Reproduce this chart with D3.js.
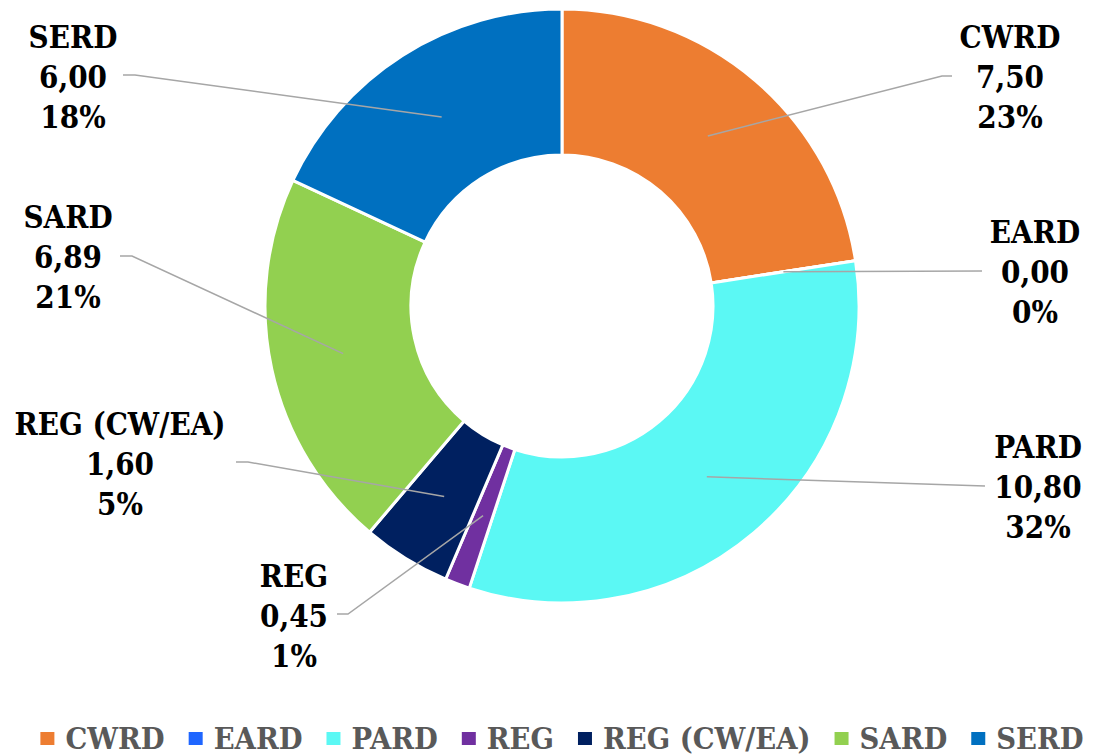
<!DOCTYPE html>
<html>
<head>
<meta charset="utf-8">
<script src="https://cdn.jsdelivr.net/npm/d3@7"></script>
<style>
  html, body { margin: 0; padding: 0; background: #fff; }
  svg { display: block; }
  .lbl { font-family: "DejaVu Serif Condensed", "DejaVu Serif", serif; font-stretch: condensed; font-weight: bold; font-size: 31px; fill: #000; }
  .leg { font-family: "DejaVu Serif Condensed", "DejaVu Serif", serif; font-stretch: condensed; font-weight: bold; font-size: 30.5px; fill: #595959; }
</style>
</head>
<body>
<svg id="chart" width="1094" height="756"></svg>
<script>
// ---- data ----
const categories = ["CWRD", "EARD", "PARD", "REG", "REG (CW/EA)", "SARD", "SERD"];
const values     = [7.50, 0.00, 10.80, 0.45, 1.60, 6.89, 6.00];
const colors     = ["#ED7D31", "#1F66FF", "#5BF8F4", "#7030A0", "#002060", "#92D050", "#0070C0"];

// ---- layout (label placement chosen to match the reference) ----
const labelLayout = [
  { cx: 1010, by: 48,  sx: 952, sy: 76,  ex: 942 },  // CWRD
  { cx: 1035, by: 243, sx: 982, sy: 271, ex: null }, // EARD
  { cx: 1038, by: 458, sx: 985, sy: 486, ex: null }, // PARD
  { cx: 294,  by: 587, sx: 337, sy: 614, ex: 348 },  // REG
  { cx: 120,  by: 435, sx: 236, sy: 462, ex: 248 },  // REG (CW/EA)
  { cx: 68,   by: 228, sx: 120, sy: 256, ex: 132 },  // SARD
  { cx: 73,   by: 48,  sx: 123, sy: 75,  ex: 135 }   // SERD
];

const W = 1094, H = 756;
const cx = 562, cy = 306, rOuter = 297, rInner = 151;
const lineH = 40;

const svg = d3.select("#chart");
const total = d3.sum(values);
const data = categories.map((c, i) => ({ name: c, value: values[i], color: colors[i], i }));

const pie = d3.pie().value(d => d.value).sort(null).startAngle(0).endAngle(2 * Math.PI);
const arcs = pie(data);
const arc = d3.arc().innerRadius(rInner).outerRadius(rOuter);

const g = svg.append("g").attr("transform", `translate(${cx},${cy})`);
g.selectAll("path.slice")
  .data(arcs)
  .join("path")
  .attr("class", "slice")
  .attr("d", arc)
  .attr("fill", d => d.data.color)
  .attr("stroke", "#fff")
  .attr("stroke-width", 3)
  .attr("stroke-linejoin", "round");

// leader lines
const fmt = v => v.toFixed(2).replace(".", ",");
const pct = v => Math.round(v / total * 100) + "%";

const leaders = svg.append("g");
arcs.forEach((a, i) => {
  const L = labelLayout[i];
  const c = arc.centroid(a);
  const pts = [[L.sx, L.sy]];
  if (L.ex !== null) pts.push([L.ex, L.sy]);
  pts.push([cx + c[0], cy + c[1]]);
  leaders.append("path")
    .attr("d", d3.line()(pts))
    .attr("fill", "none")
    .attr("stroke", "#A6A6A6")
    .attr("stroke-width", 1.5);
});

// labels
const labels = svg.append("g");
arcs.forEach((a, i) => {
  const L = labelLayout[i];
  const t = labels.append("text").attr("class", "lbl").attr("text-anchor", "middle");
  [a.data.name, fmt(a.data.value), pct(a.data.value)].forEach((s, k) => {
    t.append("tspan").attr("x", L.cx).attr("y", L.by + k * lineH).text(s);
  });
});

// legend
const legend = svg.append("g");
const sq = 14, gapSq = 11, gapItem = 24, legBase = 749;
let x = 0;
data.forEach(d => {
  const ig = legend.append("g");
  ig.append("rect").attr("x", x).attr("y", legBase - 17).attr("width", sq).attr("height", 13).attr("fill", d.color);
  const tx = ig.append("text").attr("class", "leg").attr("x", x + sq + gapSq).attr("y", legBase).text(d.name);
  const w = tx.node().getComputedTextLength();
  x += sq + gapSq + w + gapItem;
});
const totalW = x - gapItem;
legend.attr("transform", `translate(${cx - totalW / 2},0)`);
</script>
</body>
</html>
